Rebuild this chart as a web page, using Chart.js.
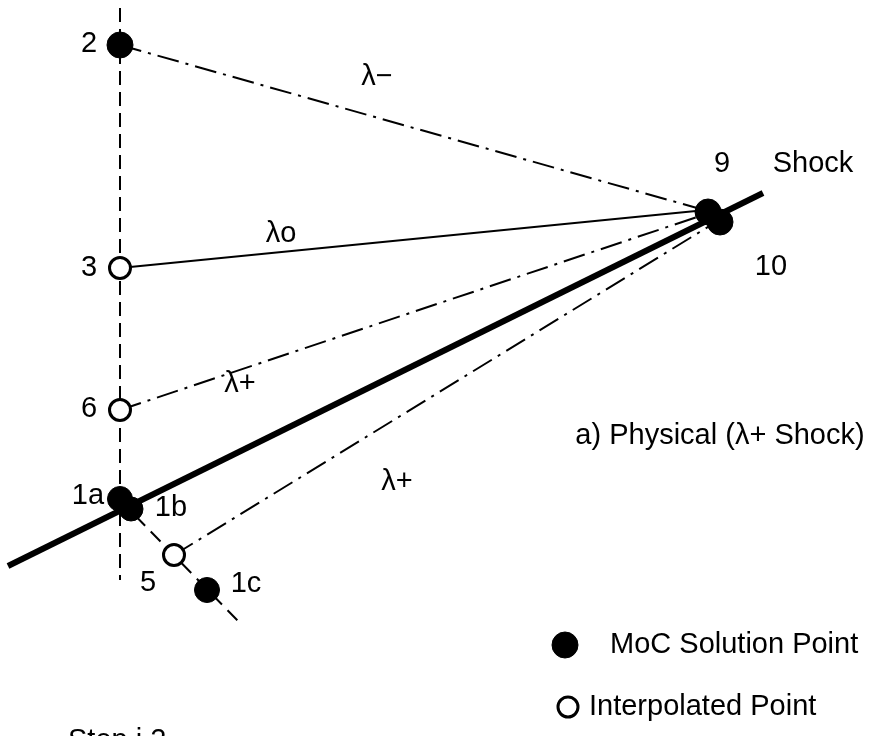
<!DOCTYPE html>
<html>
<head>
<meta charset="utf-8">
<title>Shock point characteristic mesh</title>
<script src="https://cdn.jsdelivr.net/npm/chart.js@4/dist/chart.umd.min.js"></script>
<style>
  html, body { margin: 0; padding: 0; background: #fff; }
  #wrap { width: 885px; height: 736px; }
</style>
</head>
<body>
<div id="wrap"><canvas id="c" width="885" height="736"></canvas></div>
<script>
// Mesh coordinates in the (x, t) plane of the drawing; t grows downward.
const gridLineX = [120, 120];
const gridLineT = [8, 580];

// MoC solution points (filled)
const solvedNames = ['2', '1a', '1b', '1c', '9', '10'];
const solvedX = [120, 120, 131, 207, 708, 720];
const solvedT = [45, 499, 509, 590, 212, 222];

// Interpolated points (open)
const interpNames = ['3', '6', '5'];
const interpX = [120, 120, 174];
const interpT = [268, 410, 555];

// Initial data line through 1a, 5 and 1c
const dataLineX = [120, 240];
const dataLineT = [500, 623];

// Shock path
const shockX = [8, 763];
const shockT = [566, 193];

// Characteristics converging on point 9
const lamMinusX = [120, 704];
const lamMinusT = [45, 210];
const lamZeroX = [120, 706];
const lamZeroT = [268, 210];
const lamPlusUpperX = [120, 706];
const lamPlusUpperT = [410, 214];
const lamPlusLowerX = [174, 716];
const lamPlusLowerT = [555, 222];

function pts(xs, ts) { return xs.map((x, i) => ({ x: x, y: ts[i] })); }

// Text annotations: [text, x, t, align]
const annotations = [
  ['2', 89, 44, 'center'],
  ['3', 89, 268, 'center'],
  ['6', 89, 409, 'center'],
  ['1a', 88, 496, 'center'],
  ['1b', 171, 508, 'center'],
  ['5', 148, 583, 'center'],
  ['1c', 246, 584, 'center'],
  ['9', 722, 164, 'center'],
  ['Shock', 813, 164, 'center'],
  ['10', 771, 267, 'center'],
  ['λ−', 377, 77, 'center'],
  ['λo', 281, 234, 'center'],
  ['λ+', 240, 384, 'center'],
  ['λ+', 397, 482, 'center'],
  ['a) Physical (λ+ Shock)', 720, 436, 'center'],
  ['MoC Solution Point', 610, 645, 'left'],
  ['Interpolated Point', 589, 707, 'left'],
  ['Step i 2', 68, 741, 'left']
];

// Legend markers
const legendFilled = [{ x: 565, y: 645 }];
const legendOpen = [{ x: 568, y: 707 }];

const lineDs = (label, xs, ts, width, dash) => ({
  label, data: pts(xs, ts), showLine: true, borderColor: '#000',
  borderWidth: width, borderDash: dash, pointRadius: 0, fill: false,
  order: 2, borderCapStyle: 'butt'
});

const textPlugin = {
  id: 'meshText',
  afterDatasetsDraw(chart) {
    const { ctx, scales } = chart;
    ctx.save();
    ctx.fillStyle = '#000';
    ctx.font = "29px 'Liberation Sans', Arial, sans-serif";
    ctx.textBaseline = 'middle';
    annotations.forEach(([txt, x, t, align]) => {
      ctx.textAlign = align;
      ctx.fillText(txt, scales.x.getPixelForValue(x), scales.y.getPixelForValue(t));
    });
    ctx.restore();
  }
};

new Chart(document.getElementById('c'), {
  type: 'scatter',
  data: {
    datasets: [
      lineDs('grid', gridLineX, gridLineT, 2, [14, 7]),
      lineDs('data line', dataLineX, dataLineT, 2, [14, 8]),
      lineDs('shock', shockX, shockT, 6, []),
      lineDs('lambda minus', lamMinusX, lamMinusT, 2, [22, 7, 3, 7]),
      lineDs('lambda zero', lamZeroX, lamZeroT, 2, []),
      lineDs('lambda plus upper', lamPlusUpperX, lamPlusUpperT, 2, [22, 7, 3, 7]),
      lineDs('lambda plus lower', lamPlusLowerX, lamPlusLowerT, 2, [22, 7, 3, 7]),
      {
        label: 'interpolated', data: pts(interpX, interpT).concat(legendOpen),
        pointRadius: [10.5, 10.5, 10.5, 10], pointBackgroundColor: '#fff',
        pointBorderColor: '#000', pointBorderWidth: 3, showLine: false, order: 1
      },
      {
        label: 'solved', data: pts(solvedX, solvedT).concat(legendFilled),
        pointRadius: [13, 12.5, 12, 12.5, 13, 13, 13], pointBackgroundColor: '#000',
        pointBorderColor: '#000', pointBorderWidth: 1, showLine: false, order: 0
      }
    ]
  },
  options: {
    responsive: false,
    animation: false,
    layout: { padding: 0, autoPadding: false },
    plugins: { legend: { display: false }, tooltip: { enabled: false } },
    scales: {
      x: { type: 'linear', min: 0, max: 885, display: false },
      y: { type: 'linear', min: 0, max: 736, reverse: true, display: false }
    }
  },
  plugins: [textPlugin]
});
</script>
</body>
</html>
